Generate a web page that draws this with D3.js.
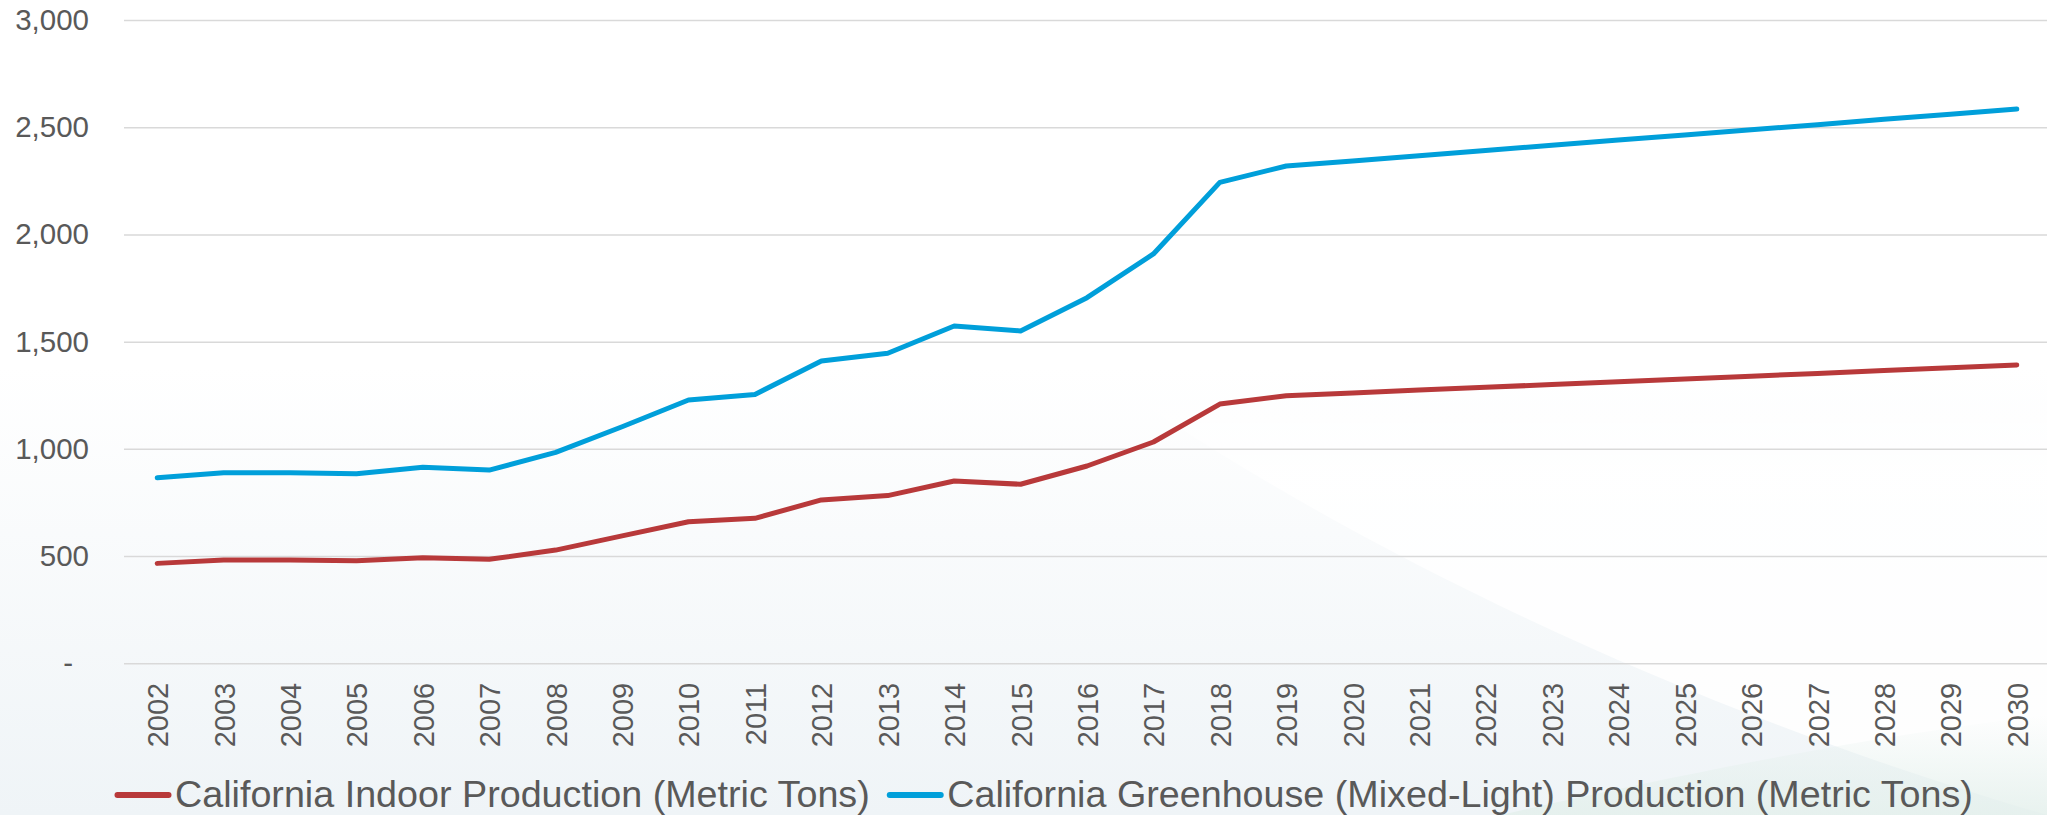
<!DOCTYPE html>
<html>
<head>
<meta charset="utf-8">
<script src="https://cdn.jsdelivr.net/npm/d3@7"></script>
<style>
  html, body { margin: 0; padding: 0; background: #ffffff; }
  svg { display: block; }
  text { font-family: "Liberation Sans", Arial, sans-serif; fill: #595959; }
</style>
</head>
<body>
<svg id="chart" width="2047" height="815"></svg>
<script>
// Production by year, metric tons
const years = ["2002","2003","2004","2005","2006","2007","2008","2009","2010","2011",
  "2012","2013","2014","2015","2016","2017","2018","2019","2020","2021",
  "2022","2023","2024","2025","2026","2027","2028","2029","2030"];

const indoor = [466, 482, 482, 478, 492, 485, 528, 594, 660, 676,
  762, 782, 850, 835, 920, 1032, 1209, 1248, 1261, 1274,
  1287, 1300, 1313, 1326, 1339, 1352, 1365, 1378, 1391];

const greenhouse = [865, 889, 889, 884, 914, 901, 984, 1103, 1228, 1254,
  1410, 1446, 1573, 1550, 1705, 1909, 2243, 2319, 2343, 2367,
  2391, 2416, 2440, 2464, 2488, 2512, 2537, 2561, 2585];

const yTicks = [0, 500, 1000, 1500, 2000, 2500, 3000];

const seriesNames = ["California Indoor Production (Metric Tons)",
  "California Greenhouse (Mixed-Light) Production (Metric Tons)"];
const seriesColors = ["#b8393a", "#009fda"];

const W = 2047, H = 815;
const plot = { left: 124, right: 2050, top: 20, bottom: 663.3 };

const svg = d3.select("#chart");
const defs = svg.append("defs");

// soft backdrop: white top fading to a pale blue-grey toward the bottom
const bg = defs.append("linearGradient").attr("id", "bgFade")
  .attr("x1", 0).attr("y1", 0).attr("x2", 0).attr("y2", 1);
bg.append("stop").attr("offset", "0.45").attr("stop-color", "#ffffff");
bg.append("stop").attr("offset", "1").attr("stop-color", "#eff4f7");

// lighter sweep across the lower right
const sweep = defs.append("linearGradient").attr("id", "sweepFade")
  .attr("x1", 0).attr("y1", 0).attr("x2", 0).attr("y2", 1);
sweep.append("stop").attr("offset", "0").attr("stop-color", "#ffffff").attr("stop-opacity", 0.0);
sweep.append("stop").attr("offset", "0.25").attr("stop-color", "#ffffff").attr("stop-opacity", 0.9);
sweep.append("stop").attr("offset", "1").attr("stop-color", "#ffffff").attr("stop-opacity", 0.9);

const tint = defs.append("linearGradient").attr("id", "tintFade")
  .attr("x1", 0).attr("y1", 0).attr("x2", 0).attr("y2", 1);
tint.append("stop").attr("offset", "0").attr("stop-color", "#e4f0ec").attr("stop-opacity", 0);
tint.append("stop").attr("offset", "1").attr("stop-color", "#e4f0ec").attr("stop-opacity", 0.85);

svg.append("rect").attr("width", W).attr("height", H).attr("fill", "url(#bgFade)");
svg.append("path")
  .attr("d", "M1080,360 C1300,520 1650,700 2047,815 L2047,360 Z")
  .attr("fill", "url(#sweepFade)");
svg.append("path")
  .attr("d", "M1500,815 C1700,770 1880,735 2047,715 L2047,815 Z")
  .attr("fill", "url(#tintFade)");

const x = d3.scalePoint().domain(years).range([plot.left, plot.right]).padding(0.5);
const y = d3.scaleLinear().domain([0, 3000]).range([plot.bottom, plot.top]);

// value axis with gridlines
const yAxis = svg.append("g")
  .attr("transform", `translate(${plot.left},0)`)
  .call(d3.axisLeft(y)
    .tickValues(yTicks)
    .tickSize(-(plot.right - plot.left))
    .tickPadding(35)
    .tickFormat(d => d === 0 ? "-" : d3.format(",")(d)));
yAxis.select(".domain").remove();
yAxis.selectAll(".tick line").attr("stroke", "#d9d9d9").attr("stroke-width", 1.5);
yAxis.selectAll(".tick text")
  .style("font-size", "29.5px")
  .attr("fill", "#595959")
  .attr("dx", d => d === 0 ? -16 : 0);

// category axis with rotated year labels
const xAxis = svg.append("g")
  .attr("transform", `translate(0,${plot.bottom})`)
  .call(d3.axisBottom(x).tickSize(0).tickPadding(0));
xAxis.select(".domain").remove();
xAxis.selectAll(".tick text")
  .style("font-size", "29px")
  .attr("fill", "#595959")
  .attr("transform", "rotate(-90)")
  .attr("text-anchor", "end")
  .attr("x", -19.5)
  .attr("y", 0)
  .attr("dy", "0.36em");

// series lines
const line = d3.line().x((d, i) => x(years[i])).y(d => y(d));
[indoor, greenhouse].forEach((vals, k) => {
  svg.append("path")
    .datum(vals)
    .attr("d", line)
    .attr("fill", "none")
    .attr("stroke", seriesColors[k])
    .attr("stroke-width", 5)
    .attr("stroke-linejoin", "round")
    .attr("stroke-linecap", "round");
});

// legend
const legend = svg.append("g").attr("transform", "translate(0,795)");
let cx = 117.5;
seriesNames.forEach((name, k) => {
  legend.append("line")
    .attr("x1", cx).attr("x2", cx + 51)
    .attr("y1", 0).attr("y2", 0)
    .attr("stroke", seriesColors[k])
    .attr("stroke-width", 6)
    .attr("stroke-linecap", "round");
  const t = legend.append("text")
    .attr("x", cx + 57.5)
    .attr("y", 0)
    .attr("dy", "0.32em")
    .style("font-size", "37.7px")
    .attr("fill", "#595959")
    .text(name);
  cx = cx + 57.5 + t.node().getComputedTextLength() + 20;
});
</script>
</body>
</html>
